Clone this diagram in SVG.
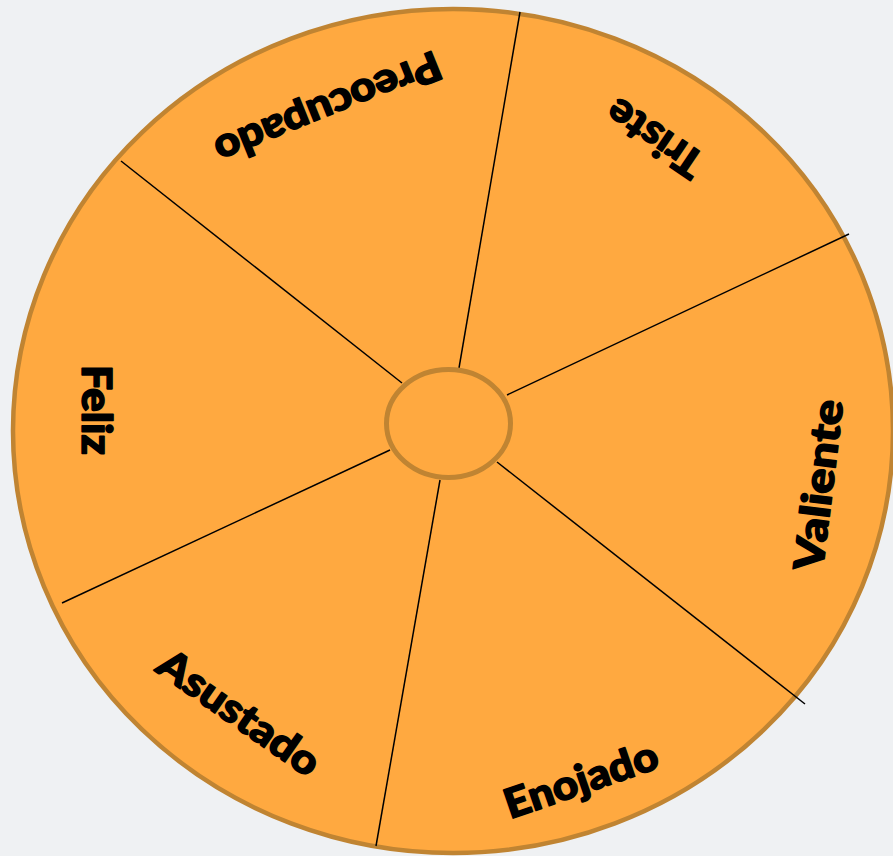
<svg xmlns="http://www.w3.org/2000/svg" width="893" height="856" viewBox="0 0 893 856">
<style>
.lbl{font-family:Lato,"Liberation Sans",sans-serif;font-weight:900;font-size:41px;fill:#000;stroke:#000;stroke-width:1.5;stroke-linejoin:round;text-anchor:middle}
.spoke{stroke:#000;stroke-width:1.5;fill:none}
</style>
<rect width="893" height="856" fill="#eff1f3"/>
<g id="wheel">
<ellipse cx="453" cy="431" rx="440" ry="422" fill="#ffa940" stroke="#c08432" stroke-width="4.5"/>
</g>
<g id="connectors">
<line class="spoke" x1="520" y1="12" x2="459" y2="368"/>
<line class="spoke" x1="440" y1="480" x2="376" y2="846"/>
<line class="spoke" x1="849" y1="234" x2="507" y2="395"/>
<line class="spoke" x1="390" y1="450" x2="62" y2="603"/>
<line class="spoke" x1="121" y1="161" x2="402" y2="383"/>
<line class="spoke" x1="497" y1="462" x2="805" y2="704"/>
</g>
<g id="hub">
<ellipse cx="448.5" cy="423.5" rx="62" ry="54" fill="#ffa940" stroke="#c08432" stroke-width="5"/>
</g>
<g id="preocupado"><text class="lbl" transform="translate(328,108) rotate(158)" dy="14" textLength="240" lengthAdjust="spacingAndGlyphs">Preocupado</text></g>
<g id="triste"><text class="lbl" transform="translate(655,138) rotate(214)" dy="14" textLength="108" lengthAdjust="spacingAndGlyphs">Triste</text></g>
<g id="valiente"><text class="lbl" transform="translate(819,485) rotate(-83)" dy="14" textLength="172" lengthAdjust="spacingAndGlyphs">Valiente</text></g>
<g id="enojado"><text class="lbl" transform="translate(581,780) rotate(-19)" dy="14" textLength="160" lengthAdjust="spacingAndGlyphs">Enojado</text></g>
<g id="asustado"><text class="lbl" transform="translate(239,713) rotate(35)" dy="14" textLength="188" lengthAdjust="spacingAndGlyphs">Asustado</text></g>
<g id="feliz"><text class="lbl" transform="translate(96,410) rotate(90)" dy="14" textLength="90" lengthAdjust="spacingAndGlyphs">Feliz</text></g>
</svg>
